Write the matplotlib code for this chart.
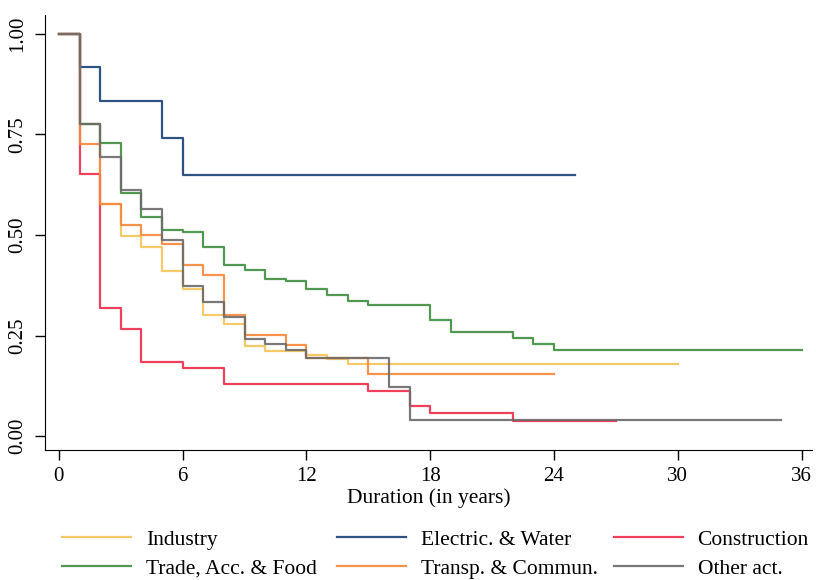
import matplotlib.pyplot as plt

plt.rcParams['font.family'] = ['Liberation Serif', 'DejaVu Serif']

# step start times (years) and survival estimates for each sector
industry_t = [0, 1, 2, 3, 4, 5, 6, 7, 8, 9, 10, 12, 13, 14]
industry_s = [1.0, 0.776, 0.576, 0.498, 0.469, 0.410, 0.365, 0.302, 0.278, 0.224, 0.212, 0.201, 0.191, 0.180]
industry_end = 30

electric_t = [0, 1, 2, 5, 6]
electric_s = [1.0, 0.917, 0.834, 0.741, 0.649]
electric_end = 25

construction_t = [0, 1, 2, 3, 4, 6, 8, 15, 17, 18, 22]
construction_s = [1.0, 0.651, 0.318, 0.267, 0.183, 0.168, 0.130, 0.111, 0.074, 0.056, 0.037]
construction_end = 27

trade_t = [0, 1, 2, 3, 4, 5, 6, 7, 8, 9, 10, 11, 12, 13, 14, 15, 18, 19, 22, 23, 24]
trade_s = [1.0, 0.776, 0.730, 0.605, 0.545, 0.513, 0.507, 0.470, 0.425, 0.412, 0.391, 0.386,
           0.365, 0.350, 0.335, 0.327, 0.288, 0.258, 0.245, 0.230, 0.213]
trade_end = 36

transp_t = [0, 1, 2, 3, 4, 5, 6, 7, 8, 9, 11, 12, 15]
transp_s = [1.0, 0.726, 0.576, 0.525, 0.500, 0.478, 0.426, 0.401, 0.301, 0.251, 0.226, 0.194, 0.155]
transp_end = 24

other_t = [0, 1, 2, 3, 4, 5, 6, 7, 8, 9, 10, 11, 12, 16, 17]
other_s = [1.0, 0.777, 0.695, 0.612, 0.564, 0.488, 0.373, 0.334, 0.296, 0.241, 0.228, 0.213, 0.194, 0.123, 0.040]
other_end = 35

series = [
    ('Industry', industry_t, industry_s, industry_end, '#F6C458'),
    ('Electric. & Water', electric_t, electric_s, electric_end, '#173F74'),
    ('Construction', construction_t, construction_s, construction_end, '#EE2C4C'),
    ('Trade, Acc. & Food', trade_t, trade_s, trade_end, '#3E8E3E'),
    ('Transp. & Commun.', transp_t, transp_s, transp_end, '#F7873A'),
    ('Other act.', other_t, other_s, other_end, '#6B6B6B'),
]

fig = plt.figure(figsize=(8.16, 5.80), dpi=100)
ax = fig.add_axes([0.055, 0.224, 0.94, 0.75])

handles = {}
for name, t, s, end, col in series:
    xs = t + [end]
    ys = s + [s[-1]]
    line, = ax.step(xs, ys, where='post', color=col, lw=1.6, alpha=0.9, label=name)
    handles[name] = line

ax.set_xlim(-0.68, 36.5)
ax.set_ylim(-0.035, 1.047)
ax.set_xticks([0, 6, 12, 18, 24, 30, 36])
ax.set_yticks([0, 0.25, 0.5, 0.75, 1.0])
ax.set_yticklabels(['0.00', '0.25', '0.50', '0.75', '1.00'], rotation=90, va='center')
ax.spines['top'].set_visible(False)
ax.spines['right'].set_visible(False)
ax.tick_params(length=7.5, width=1, labelsize=15, pad=5)
ax.set_xlabel('Duration (in years)', fontsize=15.5, labelpad=1)

# one legend per column so the columns sit where the reference has them
columns = [('Industry', 'Trade, Acc. & Food'),
           ('Electric. & Water', 'Transp. & Commun.'),
           ('Construction', 'Other act.')]
col_x = [0.076, 0.413, 0.752]
for names, x in zip(columns, col_x):
    leg = fig.legend([handles[k] for k in names], names, loc='upper left',
                     bbox_to_anchor=(x, 0.087), frameon=False, fontsize=15.5,
                     borderpad=0, borderaxespad=0, handlelength=3.2,
                     handletextpad=0.7, labelspacing=0.42)
    for h in leg.legend_handles:
        h.set_alpha(0.9)

fig.savefig('out.png', dpi=100)
